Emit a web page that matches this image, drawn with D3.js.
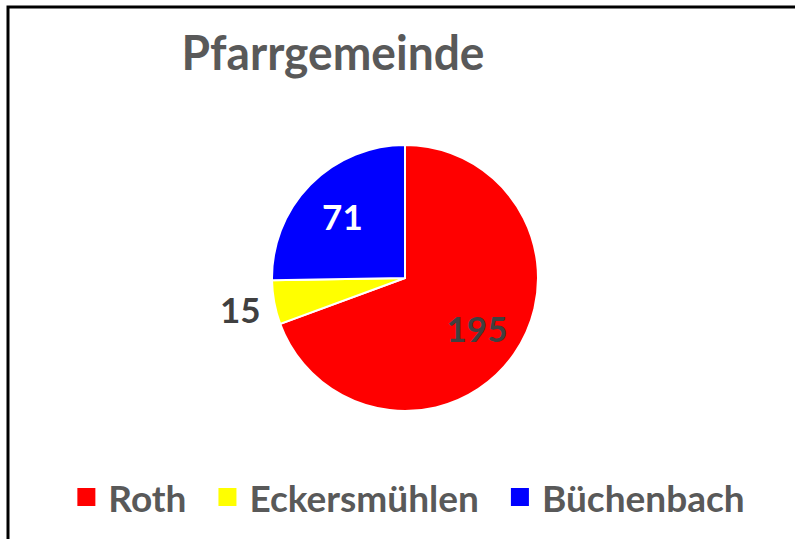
<!DOCTYPE html>
<html>
<head>
<meta charset="utf-8">
<script src="https://cdn.jsdelivr.net/npm/d3@7"></script>
<style>
  body { margin: 0; background: #fff; }
  svg { display: block; font-family: Lato, "Open Sans", sans-serif; }
</style>
</head>
<body>
<div id="pie-chart"></div>
<script>
// data
const categories = ["Roth", "Eckersmühlen", "Büchenbach"];
const values = [195, 15, 71];
const colors = ["#ff0000", "#ffff00", "#0000ff"];
const labelColors = ["#404040", "#404040", "#ffffff"];
const title = "Pfarrgemeinde";

const width = 795;
const height = 539;
const cx = 405, cy = 278, radius = 133;

const svg = d3.select("#pie-chart")
  .append("svg")
    .attr("width", width)
    .attr("height", height);

// frame (chart area is cropped on right / bottom)
svg.append("rect")
    .attr("x", 8)
    .attr("y", 7)
    .attr("width", width + 20)
    .attr("height", height + 20)
    .attr("fill", "#fff")
    .attr("stroke", "#000")
    .attr("stroke-width", 3);

// title
svg.append("text")
    .text(title)
    .attr("x", 333)
    .attr("y", 70)
    .attr("text-anchor", "middle")
    .attr("fill", "#595959")
    .attr("textLength", 303)
    .attr("lengthAdjust", "spacingAndGlyphs")
    .style("font-size", "48px")
    .style("font-weight", 700);

const formattedData = categories.map((c, i) => ({ name: c, value: values[i], i: i }));

const pieGenerator = d3.pie()
    .value(d => d.value)
    .sort(null);

const annotatedData = pieGenerator(formattedData);
const total = d3.sum(values);

const arcGenerator = d3.arc()
    .innerRadius(0)
    .outerRadius(radius);

const innerChart = svg.append("g")
    .attr("transform", `translate(${cx}, ${cy})`);

innerChart.selectAll(".arc")
  .data(annotatedData)
  .join("path")
    .attr("class", "arc")
    .attr("d", arcGenerator)
    .attr("fill", d => colors[d.data.i])
    .attr("stroke", "#fff")
    .attr("stroke-width", 2);

// value labels: small slices go outside
innerChart.selectAll(".val")
  .data(annotatedData)
  .join("text")
    .attr("class", "val")
    .text(d => d.data.value)
    .attr("transform", d => {
      const small = d.data.value / total < 0.1;
      const r = small ? radius * 1.26 : radius * 0.66;
      const a = (d.startAngle + d.endAngle) / 2;
      return `translate(${Math.sin(a) * r}, ${-Math.cos(a) * r})`;
    })
    .attr("text-anchor", "middle")
    .attr("dominant-baseline", "central")
    .attr("fill", d => d.data.value / total < 0.1 ? "#404040" : labelColors[d.data.i])
    .style("font-size", "35px")
    .style("font-weight", 700);

// legend
const legendFont = 37;
const sq = 18, sqGap = 13, itemGap = 32;
const legend = svg.append("g");
const items = legend.selectAll(".leg")
  .data(categories)
  .join("g")
    .attr("class", "leg");
items.append("rect")
    .attr("width", sq)
    .attr("height", sq)
    .attr("y", -sq / 2)
    .attr("fill", (d, i) => colors[i]);
items.append("text")
    .text(d => d)
    .attr("x", sq + sqGap)
    .attr("dominant-baseline", "central")
    .attr("fill", "#595959")
    .style("font-size", legendFont + "px")
    .style("font-weight", 700);

let widths = [];
items.each(function () {
  widths.push(sq + sqGap + d3.select(this).select("text").node().getComputedTextLength());
});
const legendWidth = d3.sum(widths) + itemGap * (widths.length - 1);
let xPos = 411 - legendWidth / 2;
items.attr("transform", (d, i) => {
  const t = `translate(${xPos}, 497)`;
  xPos += widths[i] + itemGap;
  return t;
});
</script>
</body>
</html>
